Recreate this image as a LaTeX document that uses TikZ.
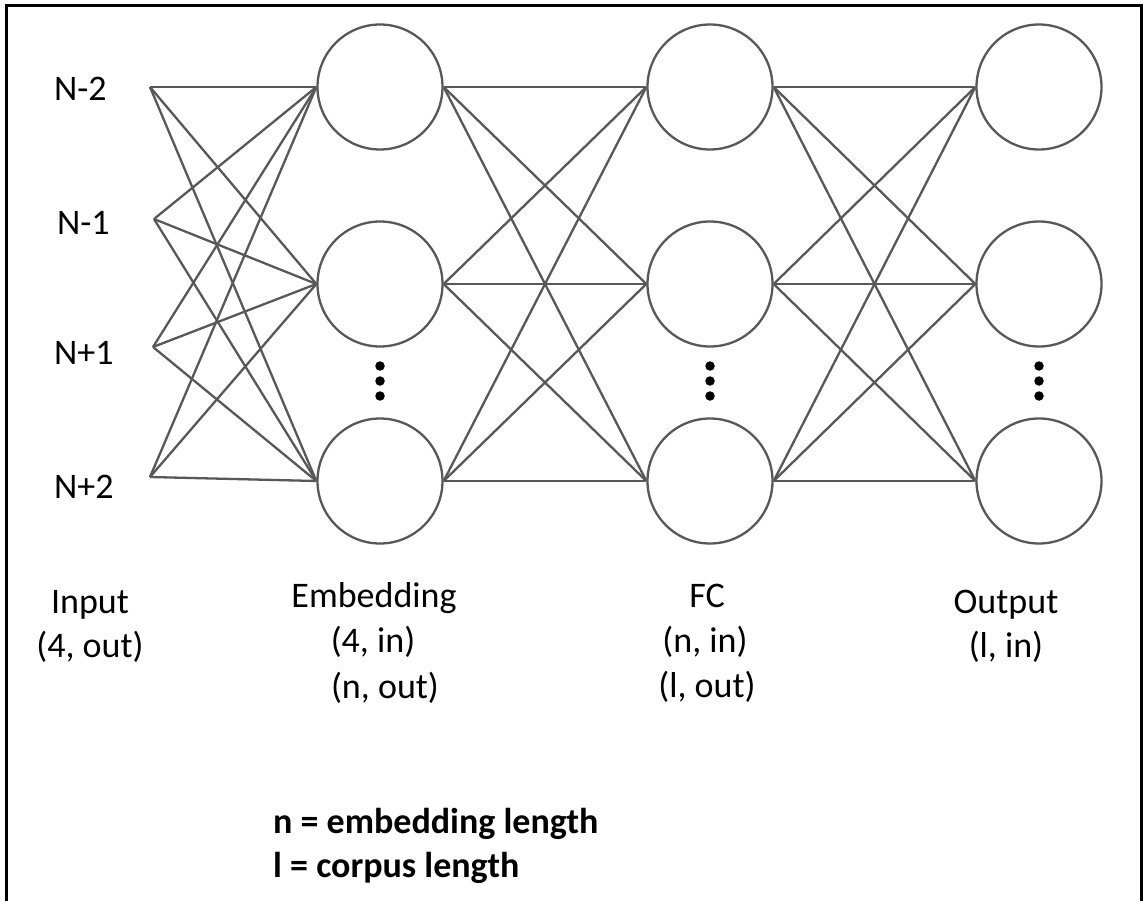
\documentclass[tikz,border=0pt]{standalone}
\usepackage{fontspec}
\setmainfont{Carlito}
\definecolor{linegray}{RGB}{88,88,88}
\begin{document}
\begin{tikzpicture}[x=1pt,y=-1pt,
  neuron/.style={circle, draw=linegray, line width=2.3pt, minimum size=125pt, inner sep=0pt},
  conn/.style={draw=linegray, line width=2.3pt},
  lbl/.style={font=\fontsize{36}{45}\selectfont, inner sep=0pt, anchor=base},
  note/.style={font=\fontsize{36}{45}\selectfont\bfseries, inner sep=0pt, anchor=base west},
  vdot/.style={fill=black, circle, inner sep=0pt, minimum size=9.5pt}]
\useasboundingbox (0,0) rectangle (1143,901);
% frame (open at the bottom)
\draw[line width=3pt, black] (6,901) -- (6,6) -- (1141.5,6) -- (1141.5,901);

% input points
\coordinate (i1) at (150,87);
\coordinate (i2) at (154,219);
\coordinate (i3) at (153,347);
\coordinate (i4) at (150,477);
\node[lbl, anchor=base west] (t1) at (54,101) {N-2};
\node[lbl, anchor=base west] (t2) at (57,235) {N-1};
\node[lbl, anchor=base west] (t3) at (54,364) {N+1};
\node[lbl, anchor=base west] (t4) at (54,498) {N+2};

% neurons
\foreach \c/\x in {e/380,f/710,o/1039}{
  \node[neuron] (\c1) at (\x,87) {};
  \node[neuron] (\c2) at (\x,284) {};
  \node[neuron] (\c3) at (\x,481) {};
  \node[vdot] (\c d1) at (\x,366) {};
  \node[vdot] (\c d2) at (\x,381) {};
  \node[vdot] (\c d3) at (\x,396) {};
}

% connections
\foreach \i in {1,2,3,4}{
  \foreach \j in {1,2,3}{
    \draw[conn] (i\i) -- (e\j.west);
  }
}
\foreach \i in {1,2,3}{
  \foreach \j in {1,2,3}{
    \draw[conn] (e\i.east) -- (f\j.west);
    \draw[conn] (f\i.east) -- (o\j.west);
  }
}

% column labels
\node[lbl] (inA) at (90,613) {Input};
\node[lbl] (inB) at (90,657) {(4, out)};
\node[lbl] (emA) at (374,607) {Embedding};
\node[lbl] (emB) at (373,652) {(4, in)};
\node[lbl] (emC) at (385,698) {(n, out)};
\node[lbl] (fcA) at (707,607) {FC};
\node[lbl] (fcB) at (705,652) {(n, in)};
\node[lbl] (fcC) at (707,697) {(l, out)};
\node[lbl] (ouA) at (1006,613) {Output};
\node[lbl] (ouB) at (1006,657) {(l, in)};

% legend
\node[note] (n1) at (273,833) {n = embedding length};
\node[note] (n2) at (273,877) {l = corpus length};
\end{tikzpicture}
\end{document}
